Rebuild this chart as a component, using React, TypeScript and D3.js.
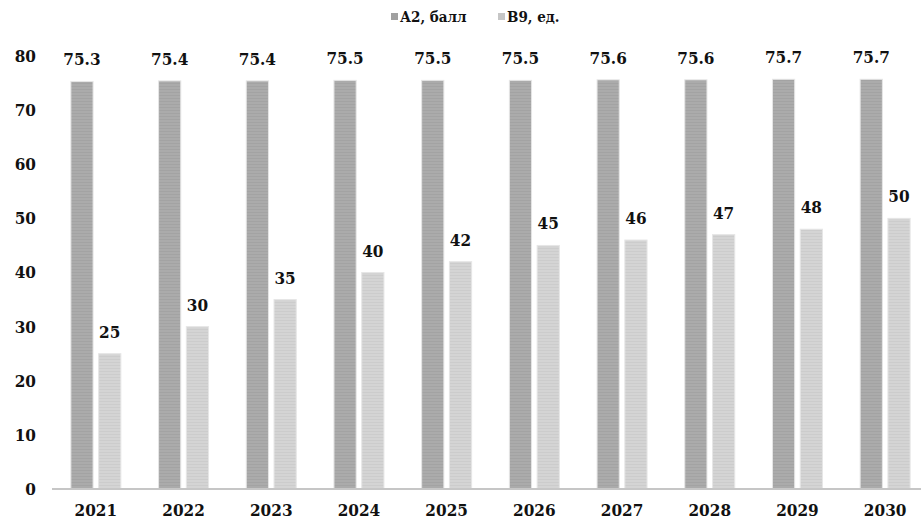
import { useEffect, useRef } from "react";
import * as d3 from "d3";

const years = ["2021", "2022", "2023", "2024", "2025", "2026", "2027", "2028", "2029", "2030"];
const a2Values = [75.3, 75.4, 75.4, 75.5, 75.5, 75.5, 75.6, 75.6, 75.7, 75.7];
const b9Values = [25, 30, 35, 40, 42, 45, 46, 47, 48, 50];
const seriesNames = ["А2, балл", "В9, ед."];
const yTicks = [0, 10, 20, 30, 40, 50, 60, 70, 80];

const font = "'DejaVu Serif Condensed', 'DejaVu Serif', serif";

export default function App() {
  const svgRef = useRef<SVGSVGElement>(null);

  useEffect(() => {
    if (!svgRef.current) return;
    const width = 921;
    const height = 521;
    const svg = d3.select(svgRef.current);
    svg.selectAll("*").remove();
    svg.attr("viewBox", `0 0 ${width} ${height}`);

    const series = [
      { key: seriesNames[0], values: a2Values, fill: "#ababab", stripe: "#a3a3a3", legend: "#a0a0a0", fmt: d3.format(".1f") },
      { key: seriesNames[1], values: b9Values, fill: "#d4d4d4", stripe: "#cccccc", legend: "#c6c6c6", fmt: d3.format("d") },
    ];

    const defs = svg.append("defs");
    series.forEach((s, i) => {
      const p = defs
        .append("pattern")
        .attr("id", `stripe${i}`)
        .attr("patternUnits", "userSpaceOnUse")
        .attr("width", 4)
        .attr("height", 3);
      p.append("rect").attr("width", 4).attr("height", 3).attr("fill", s.fill);
      p.append("rect").attr("y", 2).attr("width", 4).attr("height", 1).attr("fill", s.stripe);
    });

    const x0 = d3
      .scaleBand<string>()
      .domain(years)
      .range([52, 929])
      .paddingInner(0.43)
      .paddingOuter(0.215);

    const x1 = d3
      .scaleBand<string>()
      .domain(seriesNames)
      .range([0, x0.bandwidth()])
      .paddingInner(0.2);

    const y = d3.scaleLinear().domain([0, 80]).range([489, 56]);

    const txt = (sel: d3.Selection<SVGTextElement, any, any, any>, size = 17) =>
      sel
        .style("font-family", font)
        .attr("font-weight", "bold")
        .attr("font-size", `${size}px`)
        .attr("fill", "#111");

    // y tick labels
    svg
      .append("g")
      .selectAll("text")
      .data(yTicks)
      .enter()
      .append("text")
      .attr("x", 36)
      .attr("y", (d) => y(d))
      .attr("dy", "0.35em")
      .attr("text-anchor", "end")
      .call((s) => txt(s))
      .text((d) => d);

    // bars
    const groups = svg
      .append("g")
      .selectAll("g")
      .data(years)
      .enter()
      .append("g")
      .attr("transform", (d) => `translate(${x0(d)},0)`);

    series.forEach((s, si) => {
      groups
        .append("rect")
        .attr("x", x1(s.key)!)
        .attr("y", (_, i) => y(s.values[i]))
        .attr("width", x1.bandwidth())
        .attr("height", (_, i) => y(0) - y(s.values[i]))
        .attr("fill", `url(#stripe${si})`)
        .attr("stroke", "#e6e6e6")
        .attr("stroke-width", 1);

      groups
        .append("text")
        .attr("x", x1(s.key)! + x1.bandwidth() / 2)
        .attr("y", (_, i) => y(s.values[i]) - 16)
        .attr("text-anchor", "middle")
        .call((t) => txt(t))
        .text((_, i) => s.fmt(s.values[i]));
    });

    // x axis line
    svg
      .append("line")
      .attr("x1", 52)
      .attr("x2", 929)
      .attr("y1", y(0))
      .attr("y2", y(0))
      .attr("stroke", "#c6c6c6")
      .attr("stroke-width", 2);

    // year labels
    svg
      .append("g")
      .selectAll("text")
      .data(years)
      .enter()
      .append("text")
      .attr("x", (d) => x0(d)! + x0.bandwidth() / 2)
      .attr("y", 516)
      .attr("text-anchor", "middle")
      .call((t) => txt(t))
      .text((d) => d);

    // legend
    const legendItems = [
      { x: 391, s: series[0] },
      { x: 498, s: series[1] },
    ];
    const legend = svg.append("g");
    legendItems.forEach((it) => {
      legend
        .append("rect")
        .attr("x", it.x)
        .attr("y", 13)
        .attr("width", 7)
        .attr("height", 7)
        .attr("fill", it.s.legend);
      legend
        .append("text")
        .attr("x", it.x + 9)
        .attr("y", 22)
        .call((t) => txt(t, 15))
        .text(it.s.key);
    });
  }, []);

  return (
    <svg
      ref={svgRef}
      width={921}
      height={521}
      style={{ position: "absolute", left: 0, top: 0, background: "#fff" }}
    />
  );
}
